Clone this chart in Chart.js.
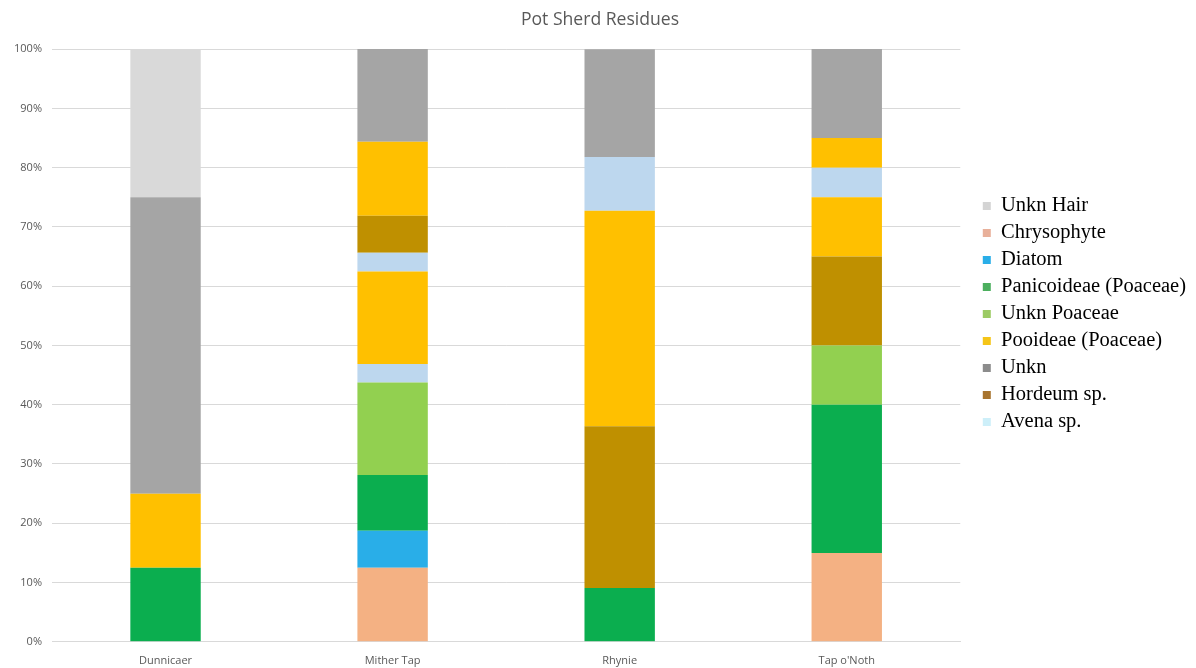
<!DOCTYPE html>
<html>
<head>
<meta charset="utf-8">
<script src="https://cdn.jsdelivr.net/npm/chart.js@4/dist/chart.umd.min.js"></script>
<style>
html,body{margin:0;padding:0;background:#fff;}
#wrap{width:1196px;height:668px;}
</style>
</head>
<body>
<div id="wrap"><canvas id="c" width="1196" height="668"></canvas></div>
<script>
const categories = ["Dunnicaer", "Mither Tap", "Rhynie", "Tap o'Noth"];
const yTicks = [0,10,20,30,40,50,60,70,80,90,100];

// Percentages per category, listed in stacking order (bottom to top)
const chrysophyte   = [0, 12.5, 0, 15];
const diatom        = [0, 6.25, 0, 0];
const panicoideae   = [12.5, 9.375, 9.09, 25];
const unknPoaceae   = [0, 15.625, 0, 10];
const avenaA        = [0, 3.125, 0, 0];
const pooideaeA     = [12.5, 15.625, 0, 0];
const avenaB        = [0, 3.125, 0, 0];
const hordeum       = [0, 6.25, 27.27, 15];
const pooideaeB     = [0, 12.5, 36.36, 10];
const avenaC        = [0, 0, 9.09, 5];
const pooideaeC     = [0, 0, 0, 5];
const unkn          = [50, 15.625, 18.18, 15];
const unknHair      = [25, 0, 0, 0];

const legendOrder = ["Unkn Hair","Chrysophyte","Diatom","Panicoideae (Poaceae)","Unkn Poaceae","Pooideae (Poaceae)","Unkn","Hordeum sp.","Avena sp."];

const C = {
  hair:"#D9D9D9", chry:"#F4B183", diat:"#29AEE8", pani:"#0BAE4F",
  unkP:"#92D050", pooi:"#FFC000", unkn:"#A5A5A5", hord:"#BF9000", aven:"#BDD7EE"
};

function ds(label, data, color, inLegend, legendColor){
  return {label, data, backgroundColor: color, borderWidth:0, inLegend,
          legendColor: legendColor || color,
          barPercentage:0.31, categoryPercentage:1.0};
}
const datasets = [
  ds("Chrysophyte", chrysophyte, C.chry, true, "#E8B09A"),
  ds("Diatom", diatom, C.diat, true),
  ds("Panicoideae (Poaceae)", panicoideae, C.pani, true, "#4CAF5E"),
  ds("Unkn Poaceae", unknPoaceae, C.unkP, true, "#9CCB64"),
  ds("Avena sp.", avenaA, C.aven, true, "#CDEFF9"),
  ds("Pooideae (Poaceae)", pooideaeA, C.pooi, true, "#F5C518"),
  ds("Avena sp. ", avenaB, C.aven, false),
  ds("Hordeum sp.", hordeum, C.hord, true, "#A8742E"),
  ds("Pooideae (Poaceae) ", pooideaeB, C.pooi, false),
  ds("Avena sp.  ", avenaC, C.aven, false),
  ds("Pooideae (Poaceae)  ", pooideaeC, C.pooi, false),
  ds("Unkn", unkn, C.unkn, true, "#8C8C8C"),
  ds("Unkn Hair", unknHair, C.hair, true, "#D4D4D4")
];

const LEGEND_EXTRA = 16, LEGEND_SHIFT = 16;
const legendShift = {
  id:'legendShift',
  afterInit(chart){
    const lg = chart.legend;
    const f = lg.fit.bind(lg);
    lg.fit = function(){ f(); this.width += LEGEND_EXTRA; };
  },
  afterLayout(chart){ chart.legend.left += LEGEND_SHIFT; chart.legend.right += LEGEND_SHIFT; }
};

new Chart(document.getElementById('c'), {
  type:'bar',
  data:{labels:categories, datasets},
  plugins:[legendShift],
  options:{
    responsive:false,
    animation:false,
    devicePixelRatio:1,
    layout:{padding:{left:4,right:0,top:0,bottom:-3}},
    plugins:{
      title:{display:true,text:"Pot Sherd Residues",color:"#595959",
        font:{family:"Open Sans",size:17.6,weight:'normal'},padding:{top:9,bottom:19}},
      tooltip:{enabled:false},
      legend:{
        position:'right',
        align:'start',
        title:{display:true,text:' ',padding:{top:188,bottom:0},font:{size:1}},
        labels:{
          font:{family:"Liberation Serif",size:20.5},
          color:"#000",
          boxWidth:8, boxHeight:8, padding:6.5,
          filter:(item,data)=>data.datasets[item.datasetIndex].inLegend,
          sort:(a,b)=>legendOrder.indexOf(a.text)-legendOrder.indexOf(b.text),
          generateLabels:(chart)=>{
            const items = Chart.defaults.plugins.legend.labels.generateLabels(chart);
            items.forEach(it=>{
              const d = chart.data.datasets[it.datasetIndex];
              it.fillStyle = d.legendColor; it.strokeStyle = d.legendColor; it.lineWidth = 0;
            });
            return items;
          }
        }
      }
    },
    scales:{
      x:{stacked:true,
        grid:{display:false},
        border:{display:true,color:"#d9d9d9"},
        ticks:{color:"#595959",font:{family:"Open Sans",size:11},padding:4}
      },
      y:{stacked:true,min:0,max:100,
        afterFit:(s)=>{s.width=48;},
        grid:{color:"#d9d9d9",drawTicks:false},
        border:{display:false},
        ticks:{stepSize:10,color:"#595959",font:{family:"Open Sans",size:11},padding:10,
          callback:(v)=>v+"%"}
      }
    }
  }
});
</script>
</body>
</html>
